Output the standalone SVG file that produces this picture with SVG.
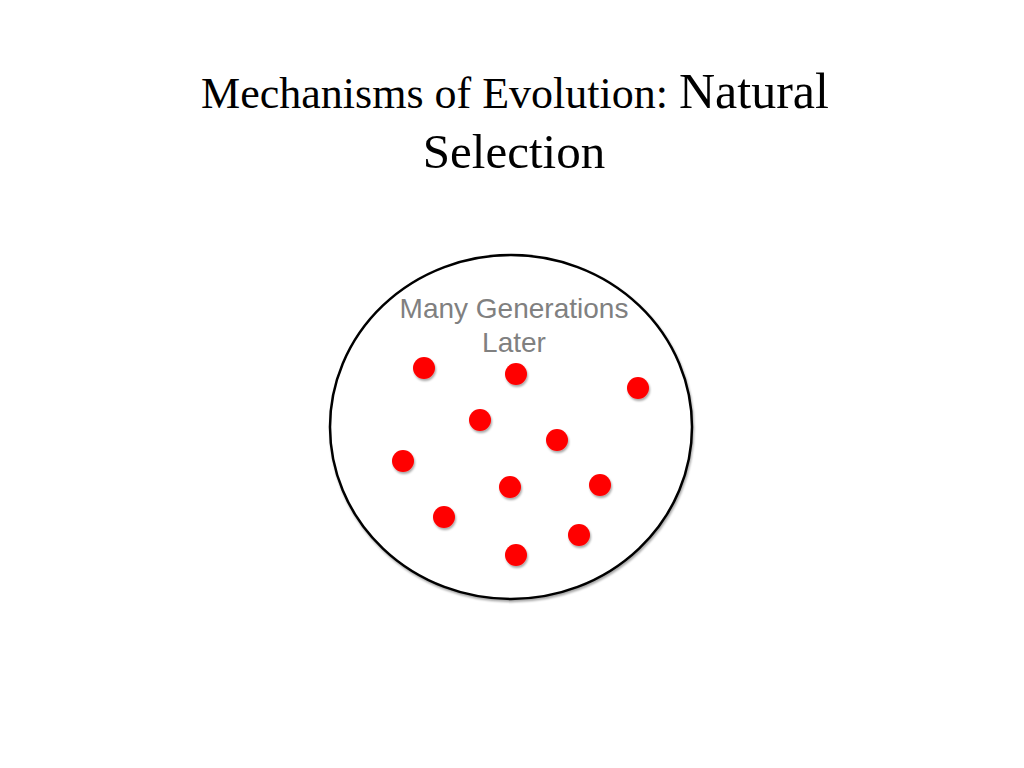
<svg xmlns="http://www.w3.org/2000/svg" width="1024" height="768" viewBox="0 0 1024 768">
<style>
.t{font-family:"Liberation Serif",serif;fill:#000}
.l{font-family:"Liberation Sans",sans-serif;font-size:28px;fill:#808080;text-anchor:middle}
.d{fill:#ff0000;filter:url(#s)}
</style>
<defs><filter id="s" x="-50%" y="-50%" width="200%" height="200%"><feDropShadow dx="1" dy="2" stdDeviation="1.2" flood-opacity="0.35"/></filter></defs>
<rect width="1024" height="768" fill="#fff"/>
<g id="title">
<text class="t" x="515" y="108" text-anchor="middle"><tspan font-size="44">Mechanisms of Evolution: </tspan><tspan font-size="50">Natural</tspan></text>
<text class="t" x="514" y="168" font-size="49" text-anchor="middle">Selection</text>
</g>
<g id="population">
<ellipse cx="511" cy="427" rx="181" ry="172" fill="#fff" stroke="#000" stroke-width="2.5" filter="url(#s)"/>
<text class="l" x="514" y="318">Many Generations</text>
<text class="l" x="514" y="352">Later</text>
<circle class="d" cx="424" cy="368" r="11"/>
<circle class="d" cx="516" cy="374" r="11"/>
<circle class="d" cx="638" cy="388" r="11"/>
<circle class="d" cx="480" cy="420" r="11"/>
<circle class="d" cx="557" cy="440" r="11"/>
<circle class="d" cx="403" cy="461" r="11"/>
<circle class="d" cx="510" cy="487" r="11"/>
<circle class="d" cx="600" cy="485" r="11"/>
<circle class="d" cx="444" cy="517" r="11"/>
<circle class="d" cx="579" cy="535" r="11"/>
<circle class="d" cx="516" cy="555" r="11"/>
</g>
</svg>
